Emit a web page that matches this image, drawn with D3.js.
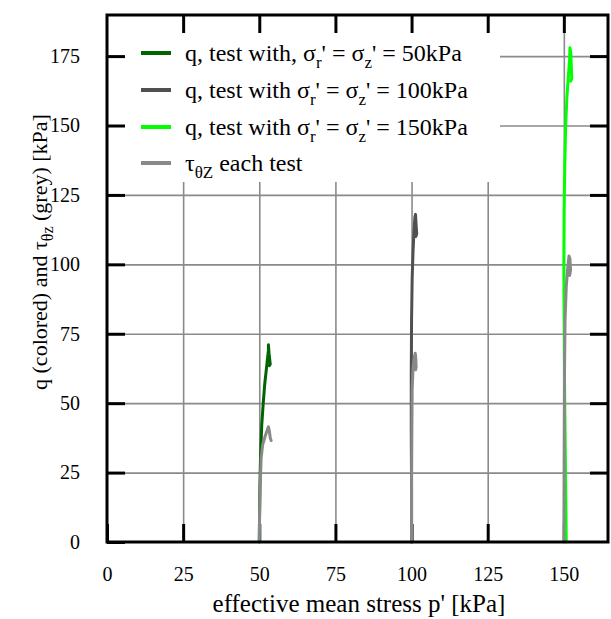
<!DOCTYPE html>
<head>
  <style>
    body { margin: 0; background: #fff; }
  </style>
<title>q and tau vs p'</title></head>

<body>

  <script src="https://cdn.jsdelivr.net/npm/d3@7"></script>

  <script>
    // values: [p', q or tau] in kPa
    var xTicks = [0, 25, 50, 75, 100, 125, 150];
    var yTicks = [0, 25, 50, 75, 100, 125, 150, 175];

    var q50 = [[50.0,0],[50.1,10],[50.2,20],[50.4,30],[50.8,42],[51.3,50],[51.8,57],[52.3,62],
               [52.7,66],[53.0,69],[53.0,71],[53.2,68],[53.6,64],[53.3,63.5]];
    var tau50 = [[50.0,0],[50.1,10],[50.3,20],[50.6,30],[51.1,35],[51.9,38],[52.5,40],[53.0,41.5],
                 [53.3,40],[53.6,37.5],[53.9,36.5]];

    var q100 = [[100.0,0],[100.0,20],[99.9,40],[99.9,60],[100.0,80],[100.2,95],[100.5,105],
                [100.8,112],[101.1,117],[101.3,118],[101.5,114],[101.7,111],[101.4,110]];
    var tau100 = [[100.0,0],[100.0,20],[100.1,40],[100.2,55],[100.5,63],[100.9,66.5],[101.2,68],
                  [101.4,66],[101.5,63],[101.3,62]];

    var q150 = [[150.8,0],[150.6,20],[150.4,40],[150.2,60],[150.1,80],[150.0,100],[150.1,120],
                [150.3,135],[150.6,150],[151.0,160],[151.5,168],[151.9,174],[152.0,178],
                [152.3,176],[152.5,170],[152.6,167],[152.3,166]];
    var tau150 = [[150.0,0],[150.1,30],[150.2,60],[150.4,80],[150.8,92],[151.3,99],[151.7,103],
                  [152.0,102],[152.2,98],[151.9,96]];

    var legendStress = [50, 100, 150];
    var qColors = ["#006400", "#505050", "#00ff00"];
    var tauColor = "#898989";

    var margin = {top: 15, right: 3, bottom: 77, left: 107};
    var width = 611 - margin.left - margin.right,
        height = 619 - margin.top - margin.bottom;

    var x = d3.scaleLinear().domain([0, 164.5]).range([0, width]),
        y = d3.scaleLinear().domain([0, 189.8]).range([height, 0]);

    var svg = d3.select("body").append("svg")
                .attr("width", 611).attr("height", 619)
                .attr("font-family", "Liberation Serif");
    var g = svg.append("g").attr("transform", "translate(" + margin.left + "," + margin.top + ")");

    // grid
    var gx = g.append("g").call(d3.axisBottom(x).tickValues(xTicks.slice(1)).tickSize(height).tickFormat(""));
    var gy = g.append("g").call(d3.axisRight(y).tickValues(yTicks.slice(1)).tickSize(width).tickFormat(""));
    [gx, gy].forEach(function(a) {
      a.select(".domain").remove();
      a.selectAll("line").attr("stroke", "#8a8a8a").attr("stroke-width", 1.6);
    });

    // legend background hides the grid
    g.append("rect").attr("x", 0).attr("y", 0).attr("width", 393).attr("height", 167).attr("fill", "#fff");

    // inward ticks on all four sides
    function ticks(axis, tr, pad) {
      var a = g.append("g").attr("transform", tr).call(axis.tickSizeInner(-18).tickSizeOuter(0).tickPadding(pad));
      a.attr("font-family", "Liberation Serif");
      a.select(".domain").remove();
      a.selectAll("line").attr("stroke", "#000").attr("stroke-width", 3);
      a.selectAll("text").attr("font-size", 20).attr("fill", "#000");
      return a;
    }
    ticks(d3.axisBottom(x).tickValues(xTicks), "translate(0," + height + ")", 25);
    ticks(d3.axisLeft(y).tickValues(yTicks), "translate(0,0)", 27);
    ticks(d3.axisTop(x).tickValues(xTicks.slice(1)).tickFormat(""), "translate(0,0)", 0);
    ticks(d3.axisRight(y).tickValues(yTicks.slice(1)).tickFormat(""), "translate(" + width + ",0)", 0);

    // data
    var line = d3.line().x(function(d) { return x(d[0]); }).y(function(d) { return y(d[1]); });
    [q50, q100, q150].forEach(function(s, i) {
      g.append("path").datum(s).attr("d", line).attr("fill", "none")
       .attr("stroke", qColors[i]).attr("stroke-width", 3)
       .attr("stroke-linejoin", "round").attr("stroke-linecap", "round");
    });
    [tau50, tau100, tau150].forEach(function(s) {
      g.append("path").datum(s).attr("d", line).attr("fill", "none")
       .attr("stroke", tauColor).attr("stroke-width", 3)
       .attr("stroke-linejoin", "round").attr("stroke-linecap", "round");
    });

    // frame
    g.append("rect").attr("width", width).attr("height", height)
     .attr("fill", "none").attr("stroke", "#000").attr("stroke-width", 3);

    // legend
    var rowsY = [38, 75, 112, 148];
    function sub(t, s, fs, d) {
      t.append("tspan").attr("dy", d).attr("font-size", fs).text(s);
    }
    legendStress.forEach(function(v, i) {
      g.append("line").attr("x1", 34).attr("x2", 64).attr("y1", rowsY[i]).attr("y2", rowsY[i])
       .attr("stroke", qColors[i]).attr("stroke-width", 4);
      var t = g.append("text").attr("x", 78).attr("y", rowsY[i] + 8).attr("font-size", 24);
      t.append("tspan").text(i == 0 ? "q, test with, \u03c3" : "q, test with \u03c3");
      sub(t, "r", 17, 7);
      t.append("tspan").attr("dy", -7).text("' = \u03c3");
      sub(t, "z", 17, 7);
      t.append("tspan").attr("dy", -7).text("' = " + v + "kPa");
    });
    g.append("line").attr("x1", 34).attr("x2", 64).attr("y1", rowsY[3]).attr("y2", rowsY[3])
     .attr("stroke", tauColor).attr("stroke-width", 4);
    var tt = g.append("text").attr("x", 78).attr("y", rowsY[3] + 8).attr("font-size", 24);
    tt.append("tspan").text("\u03c4");
    sub(tt, "\u03b8Z", 17, 7);
    tt.append("tspan").attr("dy", -7).text(" each test");

    // axis titles
    svg.append("text").attr("x", 359).attr("y", 612).attr("text-anchor", "middle")
       .attr("font-size", 25).text("effective mean stress p' [kPa]");

    var yt = svg.append("text").attr("transform", "translate(47,252) rotate(-90)")
                .attr("text-anchor", "middle").attr("font-size", 22);
    yt.append("tspan").text("q (colored) and \u03c4");
    sub(yt, "\u03b8z", 16, 6);
    yt.append("tspan").attr("dy", -6).text(" (grey) [kPa]");
  </script>

</body>
